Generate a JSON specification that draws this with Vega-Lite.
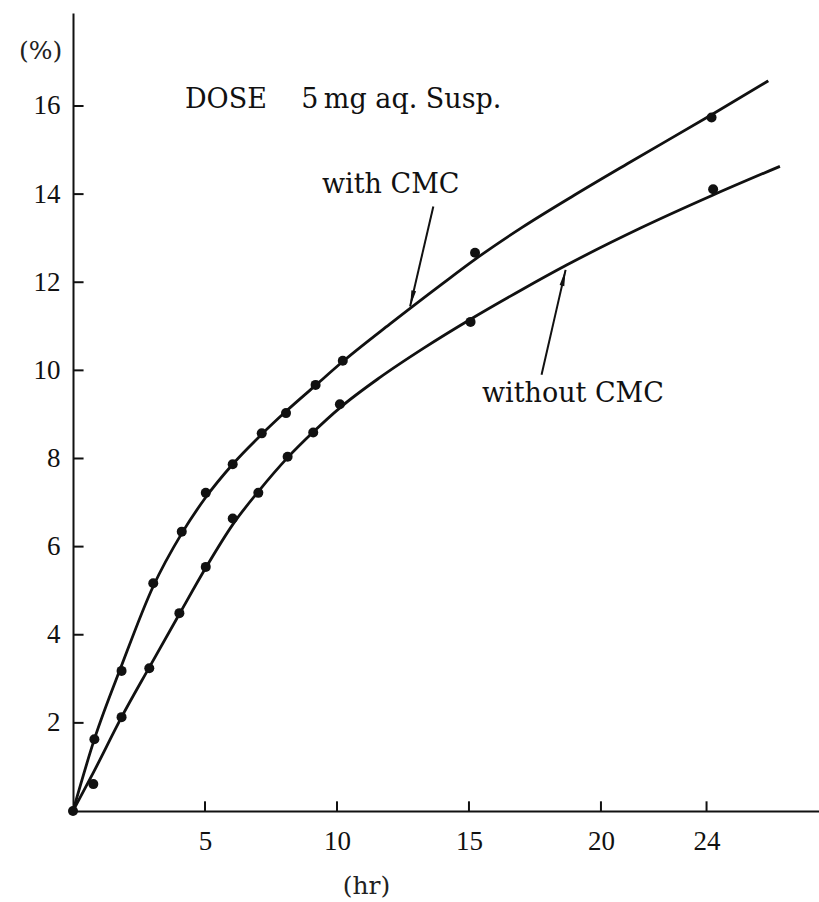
{
  "$schema": "https://vega.github.io/schema/vega-lite/v6.json",
  "width": 746,
  "height": 798,
  "autosize": {"type": "none"},
  "padding": {"left": 73, "top": 13, "right": 0, "bottom": 91},
  "background": "white",
  "config": {
    "view": {"stroke": null},
    "font": "Liberation Serif",
    "axis": {
      "grid": false,
      "domainColor": "#111",
      "domainWidth": 2,
      "ticks": false,
      "labelFont": "Liberation Serif",
      "labelFontSize": 27,
      "labelColor": "#111",
      "titleFont": "DejaVu Serif",
      "titleFontWeight": "normal",
      "titleFontSize": 25,
      "titleColor": "#222"
    }
  },
  "datasets": {
    "curves": [
      {"series": "with CMC", "t": 0, "v": 0},
      {"series": "with CMC", "t": 0.81, "v": 1.63},
      {"series": "with CMC", "t": 1.84, "v": 3.3},
      {"series": "with CMC", "t": 3.04, "v": 5.1},
      {"series": "with CMC", "t": 4.12, "v": 6.3},
      {"series": "with CMC", "t": 5.03, "v": 7.12},
      {"series": "with CMC", "t": 6.05, "v": 7.87},
      {"series": "with CMC", "t": 7.15, "v": 8.55},
      {"series": "with CMC", "t": 8.07, "v": 9.07},
      {"series": "with CMC", "t": 9.19, "v": 9.66},
      {"series": "with CMC", "t": 10.22, "v": 10.2},
      {"series": "with CMC", "t": 12, "v": 11.05},
      {"series": "with CMC", "t": 14, "v": 11.97},
      {"series": "with CMC", "t": 15.23, "v": 12.52},
      {"series": "with CMC", "t": 17, "v": 13.24},
      {"series": "with CMC", "t": 19, "v": 13.98},
      {"series": "with CMC", "t": 21, "v": 14.69},
      {"series": "with CMC", "t": 24.19, "v": 15.8},
      {"series": "with CMC", "t": 26.34, "v": 16.57},
      {"series": "without CMC", "t": 0, "v": 0},
      {"series": "without CMC", "t": 0.77, "v": 0.87},
      {"series": "without CMC", "t": 1.84, "v": 2.13},
      {"series": "without CMC", "t": 2.89, "v": 3.26},
      {"series": "without CMC", "t": 4.03, "v": 4.47},
      {"series": "without CMC", "t": 5.03, "v": 5.52},
      {"series": "without CMC", "t": 6.05, "v": 6.5},
      {"series": "without CMC", "t": 7.02, "v": 7.25},
      {"series": "without CMC", "t": 8.13, "v": 8.02},
      {"series": "without CMC", "t": 9.1, "v": 8.6},
      {"series": "without CMC", "t": 10.11, "v": 9.15},
      {"series": "without CMC", "t": 11.63, "v": 9.84},
      {"series": "without CMC", "t": 13.3, "v": 10.51},
      {"series": "without CMC", "t": 15.06, "v": 11.16},
      {"series": "without CMC", "t": 17, "v": 11.83},
      {"series": "without CMC", "t": 18.7, "v": 12.39},
      {"series": "without CMC", "t": 21.5, "v": 13.23},
      {"series": "without CMC", "t": 24.25, "v": 13.98},
      {"series": "without CMC", "t": 26.78, "v": 14.63}
    ],
    "points": [
      {"series": "both", "t": 0, "v": 0},
      {"series": "with CMC", "t": 0.81, "v": 1.63},
      {"series": "with CMC", "t": 1.84, "v": 3.18},
      {"series": "with CMC", "t": 3.04, "v": 5.17},
      {"series": "with CMC", "t": 4.12, "v": 6.34},
      {"series": "with CMC", "t": 5.03, "v": 7.22},
      {"series": "with CMC", "t": 6.05, "v": 7.87},
      {"series": "with CMC", "t": 7.15, "v": 8.57},
      {"series": "with CMC", "t": 8.07, "v": 9.03},
      {"series": "with CMC", "t": 9.19, "v": 9.67},
      {"series": "with CMC", "t": 10.22, "v": 10.22},
      {"series": "with CMC", "t": 15.23, "v": 12.67},
      {"series": "with CMC", "t": 24.19, "v": 15.74},
      {"series": "without CMC", "t": 0.77, "v": 0.61},
      {"series": "without CMC", "t": 1.84, "v": 2.13},
      {"series": "without CMC", "t": 2.89, "v": 3.24},
      {"series": "without CMC", "t": 4.03, "v": 4.49},
      {"series": "without CMC", "t": 5.03, "v": 5.54},
      {"series": "without CMC", "t": 6.05, "v": 6.64},
      {"series": "without CMC", "t": 7.02, "v": 7.22},
      {"series": "without CMC", "t": 8.13, "v": 8.04},
      {"series": "without CMC", "t": 9.1, "v": 8.59},
      {"series": "without CMC", "t": 10.11, "v": 9.23},
      {"series": "without CMC", "t": 15.06, "v": 11.1},
      {"series": "without CMC", "t": 24.25, "v": 14.11}
    ],
    "arrows": [
      {"name": "with CMC", "t": 13.65, "v": 13.72, "t2": 12.77, "v2": 11.45},
      {"name": "without CMC", "t": 17.75, "v": 9.9, "t2": 18.66, "v2": 12.28}
    ],
    "heads": [
      {"name": "with CMC", "t": 12.84, "v": 11.63},
      {"name": "without CMC", "t": 18.59, "v": 12.1}
    ],
    "yticks": [
      {"v": 2}, {"v": 4}, {"v": 6}, {"v": 8}, {"v": 10}, {"v": 12}, {"v": 14}, {"v": 16}
    ],
    "xticks": [
      {"t": 5}, {"t": 10}, {"t": 15}, {"t": 20}, {"t": 24}
    ]
  },
  "layer": [
    {
      "data": {"name": "curves"},
      "mark": {"type": "line", "interpolate": "monotone", "color": "#111", "strokeWidth": 2.8},
      "encoding": {
        "x": {
          "field": "t", "type": "quantitative",
          "scale": {"domain": [0, 28.26], "nice": false, "zero": false},
          "axis": {
            "values": [5, 10, 15, 20, 24],
            "title": "(hr)",
            "titleX": 293,
            "titleY": 74,
            "titleAlign": "center",
            "titleBaseline": "middle",
            "labelPadding": 17
          }
        },
        "y": {
          "field": "v", "type": "quantitative",
          "scale": {"domain": [0, 18.11], "nice": false, "zero": false},
          "axis": {
            "values": [2, 4, 6, 8, 10, 12, 14, 16],
            "title": "(%)",
            "titleAngle": 0,
            "titleX": -33,
            "titleY": 37,
            "titleAlign": "center",
            "titleBaseline": "middle",
            "labelPadding": 13
          }
        },
        "detail": {"field": "series"}
      }
    },
    {
      "data": {"name": "yticks"},
      "mark": {"type": "rule", "color": "#111", "strokeWidth": 2},
      "encoding": {
        "x": {"datum": 0, "type": "quantitative"},
        "x2": {"datum": 0.4},
        "y": {"field": "v", "type": "quantitative"}
      }
    },
    {
      "data": {"name": "xticks"},
      "mark": {"type": "rule", "color": "#111", "strokeWidth": 2},
      "encoding": {
        "x": {"field": "t", "type": "quantitative"},
        "y": {"datum": 0, "type": "quantitative"},
        "y2": {"datum": 0.22}
      }
    },
    {
      "data": {"name": "points"},
      "mark": {"type": "circle", "color": "#111", "opacity": 1, "size": 100},
      "encoding": {
        "x": {"field": "t", "type": "quantitative"},
        "y": {"field": "v", "type": "quantitative"}
      }
    },
    {
      "data": {"values": [{"text": "DOSE\u00a0\u00a0\u00a0\u00a05\u2009mg aq. Susp.", "t": 4.24, "v": 15.96}]},
      "mark": {"type": "text", "align": "left", "baseline": "alphabetic", "font": "DejaVu Serif", "fontSize": 27, "color": "#111"},
      "encoding": {
        "x": {"field": "t", "type": "quantitative"},
        "y": {"field": "v", "type": "quantitative"},
        "text": {"field": "text"}
      }
    },
    {
      "data": {"values": [
        {"text": "with CMC", "t": 9.43, "v": 14.03},
        {"text": "without CMC", "t": 15.49, "v": 9.28}
      ]},
      "mark": {"type": "text", "align": "left", "baseline": "alphabetic", "font": "DejaVu Serif", "fontSize": 27, "color": "#111"},
      "encoding": {
        "x": {"field": "t", "type": "quantitative"},
        "y": {"field": "v", "type": "quantitative"},
        "text": {"field": "text"}
      }
    },
    {
      "data": {"name": "arrows"},
      "mark": {"type": "rule", "color": "#111", "strokeWidth": 2},
      "encoding": {
        "x": {"field": "t", "type": "quantitative"},
        "y": {"field": "v", "type": "quantitative"},
        "x2": {"field": "t2"},
        "y2": {"field": "v2"}
      }
    },
    {
      "data": {"name": "heads"},
      "transform": [{"filter": "datum.name == 'with CMC'"}],
      "mark": {"type": "point", "shape": "M0,-1L0.3,1L-0.3,1Z", "angle": 193, "size": 256, "filled": true, "color": "#111", "opacity": 1},
      "encoding": {
        "x": {"field": "t", "type": "quantitative"},
        "y": {"field": "v", "type": "quantitative"}
      }
    },
    {
      "data": {"name": "heads"},
      "transform": [{"filter": "datum.name == 'without CMC'"}],
      "mark": {"type": "point", "shape": "M0,-1L0.3,1L-0.3,1Z", "angle": 13, "size": 256, "filled": true, "color": "#111", "opacity": 1},
      "encoding": {
        "x": {"field": "t", "type": "quantitative"},
        "y": {"field": "v", "type": "quantitative"}
      }
    }
  ]
}
